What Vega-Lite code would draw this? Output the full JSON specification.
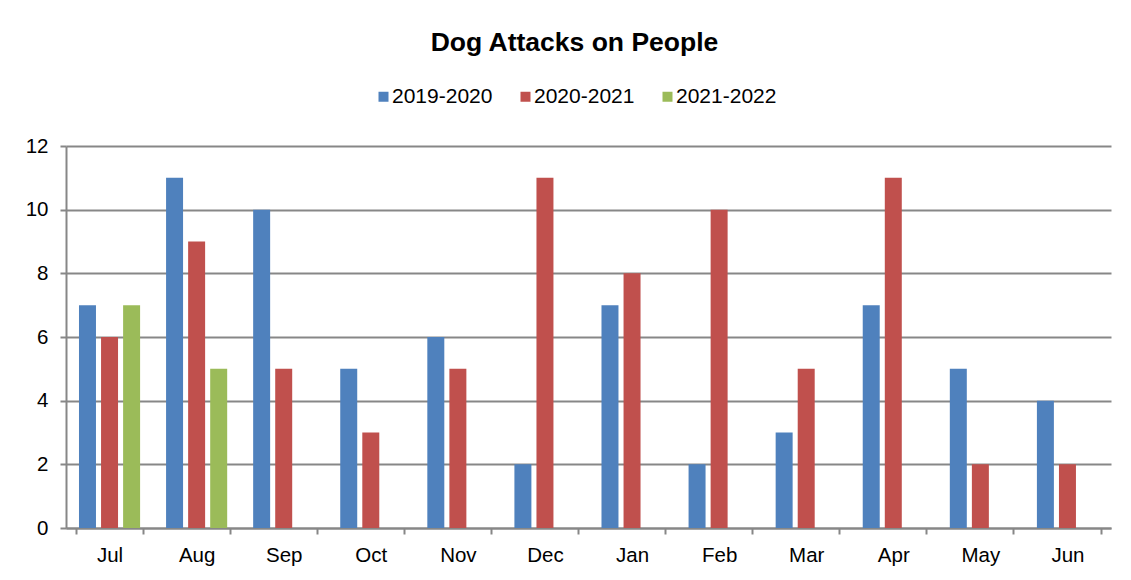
{
  "$schema": "https://vega.github.io/schema/vega-lite/v6.json",
  "autosize": {"type": "none"},
  "width": 1045,
  "height": 382,
  "padding": {"left": 66, "top": 146, "right": 20, "bottom": 52},
  "background": "white",
  "title": {
    "text": "Dog Attacks on People",
    "anchor": "middle",
    "dx": -14,
    "offset": 30,
    "font": "Liberation Sans",
    "fontSize": 26.5,
    "fontWeight": "bold",
    "color": "#000000"
  },
  "config": {
    "view": {"stroke": null},
    "font": "Liberation Sans"
  },
  "data": {
    "values": [
      {"month": "Jul", "season": "2019-2020", "attacks": 7},
      {"month": "Jul", "season": "2020-2021", "attacks": 6},
      {"month": "Jul", "season": "2021-2022", "attacks": 7},
      {"month": "Aug", "season": "2019-2020", "attacks": 11},
      {"month": "Aug", "season": "2020-2021", "attacks": 9},
      {"month": "Aug", "season": "2021-2022", "attacks": 5},
      {"month": "Sep", "season": "2019-2020", "attacks": 10},
      {"month": "Sep", "season": "2020-2021", "attacks": 5},
      {"month": "Oct", "season": "2019-2020", "attacks": 5},
      {"month": "Oct", "season": "2020-2021", "attacks": 3},
      {"month": "Nov", "season": "2019-2020", "attacks": 6},
      {"month": "Nov", "season": "2020-2021", "attacks": 5},
      {"month": "Dec", "season": "2019-2020", "attacks": 2},
      {"month": "Dec", "season": "2020-2021", "attacks": 11},
      {"month": "Jan", "season": "2019-2020", "attacks": 7},
      {"month": "Jan", "season": "2020-2021", "attacks": 8},
      {"month": "Feb", "season": "2019-2020", "attacks": 2},
      {"month": "Feb", "season": "2020-2021", "attacks": 10},
      {"month": "Mar", "season": "2019-2020", "attacks": 3},
      {"month": "Mar", "season": "2020-2021", "attacks": 5},
      {"month": "Apr", "season": "2019-2020", "attacks": 7},
      {"month": "Apr", "season": "2020-2021", "attacks": 11},
      {"month": "May", "season": "2019-2020", "attacks": 5},
      {"month": "May", "season": "2020-2021", "attacks": 2},
      {"month": "Jun", "season": "2019-2020", "attacks": 4},
      {"month": "Jun", "season": "2020-2021", "attacks": 2}
    ]
  },
  "mark": {"type": "bar"},
  "encoding": {
    "x": {
      "field": "month",
      "type": "nominal",
      "sort": ["Jul", "Aug", "Sep", "Oct", "Nov", "Dec", "Jan", "Feb", "Mar", "Apr", "May", "Jun"],
      "scale": {"paddingInner": 0.24, "paddingOuter": 0.12},
      "axis": {
        "title": null,
        "labelAngle": 0,
        "labelFontSize": 20.5,
        "labelColor": "#000000",
        "labelPadding": 11,
        "tickBand": "extent",
        "tickSize": 6,
        "tickWidth": 2,
        "tickColor": "#878787",
        "domainColor": "#878787",
        "domainWidth": 2,
        "grid": false
      }
    },
    "xOffset": {
      "field": "season",
      "type": "nominal",
      "sort": ["2019-2020", "2020-2021", "2021-2022"],
      "scale": {"paddingInner": 0.23, "paddingOuter": 0.115}
    },
    "y": {
      "field": "attacks",
      "type": "quantitative",
      "scale": {"domain": [0, 12], "nice": false},
      "axis": {
        "title": null,
        "values": [0, 2, 4, 6, 8, 10, 12],
        "labelFontSize": 20.5,
        "labelColor": "#000000",
        "labelPadding": 12,
        "tickSize": 6,
        "tickWidth": 2,
        "tickColor": "#878787",
        "domainColor": "#878787",
        "domainWidth": 2,
        "gridColor": "#878787",
        "gridWidth": 2,
        "gridOpacity": 1
      }
    },
    "color": {
      "field": "season",
      "type": "nominal",
      "scale": {
        "domain": ["2019-2020", "2020-2021", "2021-2022"],
        "range": ["#4F81BD", "#C0504D", "#9BBB59"]
      },
      "legend": {
        "title": null,
        "orient": "none",
        "legendX": 307,
        "legendY": -60,
        "direction": "horizontal",
        "symbolType": "square",
        "symbolSize": 100,
        "symbolStrokeWidth": 0,
        "labelFontSize": 21,
        "labelColor": "#000000",
        "labelOffset": -2,
        "columnPadding": 22,
        "padding": 0
      }
    }
  }
}
